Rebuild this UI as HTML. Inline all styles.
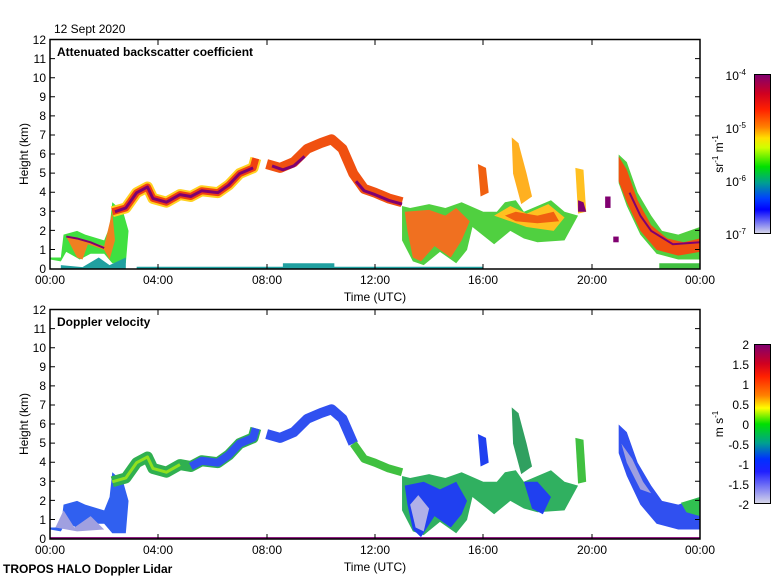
<!DOCTYPE html>
<html><head><meta charset="utf-8"><style>
body{margin:0;background:#fff;}
svg{display:block;font-family:"Liberation Sans",sans-serif;}
</style></head><body>
<svg width="780" height="580" viewBox="0 0 780 580" xmlns="http://www.w3.org/2000/svg">
<defs>
<linearGradient id="gb" x1="0" y1="0" x2="0" y2="1">
<stop offset="0" stop-color="#800070"/><stop offset="0.12" stop-color="#d00020"/><stop offset="0.22" stop-color="#ff2000"/><stop offset="0.33" stop-color="#ff8000"/><stop offset="0.40" stop-color="#ffe000"/><stop offset="0.46" stop-color="#d0ff00"/><stop offset="0.58" stop-color="#00e000"/><stop offset="0.68" stop-color="#00a090"/><stop offset="0.78" stop-color="#0040ff"/><stop offset="0.85" stop-color="#0000ff"/><stop offset="1" stop-color="#d8d8e8"/>
</linearGradient>
<linearGradient id="gd" x1="0" y1="0" x2="0" y2="1">
<stop offset="0" stop-color="#800070"/><stop offset="0.12" stop-color="#d00020"/><stop offset="0.2" stop-color="#ff2000"/><stop offset="0.32" stop-color="#ff8000"/><stop offset="0.40" stop-color="#ffff00"/><stop offset="0.5" stop-color="#00e000"/><stop offset="0.62" stop-color="#00a090"/><stop offset="0.72" stop-color="#0030ff"/><stop offset="0.8" stop-color="#2020ff"/><stop offset="1" stop-color="#d8d8e8"/>
</linearGradient>
</defs>

<!-- ===== Plot 1 data ===== -->
<g transform="translate(50,269) scale(27.08,-19.08)">
 <polygon fill="#40e040" points="0,0.6 0.4,0.6 0.5,1.8 1.0,2.0 1.3,1.8 2.0,1.5 2.2,2.2 2.3,3.5 2.7,3.0 2.9,2.0 2.8,0.3 2.3,0.3 2.0,0.8 1.5,0.8 1.1,0.5 0.6,0.9 0.4,0.4 0,0.5"/>
 <polygon fill="#f08020" points="0.6,1.7 1.0,0.6 1.2,0.5 1.4,1.3 2.0,1.0 2.2,0.5 2.4,1.5 2.3,3.0 2.0,1.2 1.5,1.4 1.0,1.6"/>
 <polygon fill="#20a0a0" points="0.4,0 2.8,0 2.8,0.6 2.2,0.2 1.8,0.6 1.2,0.1 0.4,0.2"/>
 <polygon fill="#20a0a0" points="3.2,0 16,0 16,0.12 3.2,0.12"/>
 <polygon fill="#20a0a0" points="8.6,0.1 10.5,0.1 10.5,0.3 8.6,0.3"/>
 <polyline fill="none" stroke="#ffd020" stroke-width="11" vector-effect="non-scaling-stroke" stroke-linejoin="round" points="2.3,3.0 2.8,3.2 3.2,4.0 3.6,4.3 3.8,3.7 4.3,3.5 4.8,3.9 5.2,3.8 5.6,4.1 6.2,4.0 6.6,4.4 7.0,5.0 7.5,5.3 7.6,5.8"/>
 <polyline fill="none" stroke="#f04010" stroke-width="7" vector-effect="non-scaling-stroke" stroke-linejoin="round" points="2.3,3.0 2.8,3.2 3.2,4.0 3.6,4.3 3.8,3.7 4.3,3.5 4.8,3.9 5.2,3.8 5.6,4.1 6.2,4.0 6.6,4.4 7.0,5.0 7.5,5.3 7.6,5.8"/>
 <polyline fill="none" stroke="#800070" stroke-width="3" vector-effect="non-scaling-stroke" stroke-linejoin="round" points="2.4,3.0 2.8,3.2 3.2,4.0 3.6,4.3 3.8,3.7 4.3,3.5 4.8,3.9 5.2,3.8 5.6,4.1 6.2,4.0 6.6,4.4 7.0,5.0 7.5,5.3"/>
 <polyline fill="none" stroke="#f05010" stroke-width="10" vector-effect="non-scaling-stroke" stroke-linejoin="round" points="8.0,5.5 8.5,5.3 9.0,5.6 9.5,6.3 10.0,6.6 10.4,6.8 10.8,6.3 11.2,5.0 11.6,4.2 12.0,4.0 12.5,3.7 13.0,3.5"/>
 <polyline fill="none" stroke="#800070" stroke-width="3" vector-effect="non-scaling-stroke" stroke-linejoin="round" points="8.2,5.4 8.6,5.2 9.0,5.4 9.4,5.9"/>
 <polyline fill="none" stroke="#800070" stroke-width="3" vector-effect="non-scaling-stroke" stroke-linejoin="round" points="11.3,4.6 11.6,4.1 12.0,3.9 12.5,3.6 13.0,3.4"/>
 <polyline fill="none" stroke="#800070" stroke-width="2" vector-effect="non-scaling-stroke" points="0.6,1.7 1.0,1.6 1.5,1.4 2.0,1.1"/>
 <!-- afternoon -->
 <polygon fill="#50d040" points="13.0,3.3 13.3,3.2 14.0,3.4 14.6,3.2 15.2,3.5 16.0,3.0 16.5,3.0 16.8,3.5 17.2,3.6 17.5,3.0 18.0,3.3 18.5,3.6 19.0,3.0 19.5,2.8 19.0,1.5 18.0,1.4 17.5,1.6 17.0,2.0 16.4,1.3 15.6,2.2 15.4,1.0 15.0,0.3 14.4,0.9 13.8,0.2 13.4,0.4 13.0,1.5"/>
 <polygon fill="#f07020" points="13.1,3.0 14.0,3.1 14.6,2.8 15.0,3.2 15.5,2.5 15.2,1.5 14.8,0.6 14.2,1.2 13.7,0.4 13.4,0.6 13.2,2.0"/>
 <polygon fill="#ffc020" points="16.4,2.8 17.0,3.3 17.6,2.9 18.4,3.4 19.0,2.7 18.6,2.0 17.6,2.2 17.0,2.5"/>
 <polygon fill="#f06010" points="16.8,2.8 17.2,3.0 18.0,2.8 18.6,3.0 18.8,2.5 18.0,2.4 17.2,2.5"/>
 <polygon fill="#ffb020" points="17.05,6.9 17.3,6.6 17.6,5.0 17.8,3.8 17.4,3.4 17.1,5.0"/>
 <polygon fill="#f06010" points="15.8,5.5 16.1,5.3 16.2,4.0 15.9,3.8"/>
 <polygon fill="#ffc020" points="19.4,5.3 19.7,5.2 19.8,3.0 19.5,2.9"/>
 <polygon fill="#800070" points="19.5,3.6 19.7,3.5 19.8,3.0 19.5,3.0"/>
 <polygon fill="#800070" points="20.5,3.8 20.7,3.8 20.7,3.2 20.5,3.2"/>
 <polygon fill="#800070" points="20.8,1.7 21.0,1.7 21.0,1.4 20.8,1.4"/>
 <polygon fill="#50d040" points="21.0,6.0 21.3,5.6 21.7,4.0 22.2,2.8 22.6,2.0 23.2,1.8 24,2.2 24,0.5 23.2,0.5 22.4,0.8 21.8,1.8 21.3,3.3 21.0,4.5"/>
 <polygon fill="#f05010" points="21.0,5.9 21.3,5.2 21.7,3.6 22.2,2.3 22.8,1.6 23.4,1.4 24,1.6 24,0.9 23.2,0.7 22.4,1.0 21.8,2.0 21.3,3.5 21.0,4.6"/>
 <polyline fill="none" stroke="#800070" stroke-width="2" vector-effect="non-scaling-stroke" points="21.4,4.0 21.8,2.8 22.2,2.0 23.0,1.3 24,1.4"/>
 <polygon fill="#40c040" points="22.5,0 24,0 24,0.3 22.5,0.3"/>
</g>

<!-- ===== Plot 2 data ===== -->
<g transform="translate(50,539) scale(27.08,-19.08)">
 <polygon fill="#3060f0" points="0,0.6 0.4,0.6 0.5,1.8 1.0,2.0 1.3,1.8 2.0,1.5 2.2,2.2 2.3,3.5 2.7,3.0 2.9,2.0 2.8,0.3 2.3,0.3 2.0,0.8 1.5,0.8 1.1,0.5 0.6,0.9 0.4,0.4 0,0.5"/>
 <polygon fill="#a0a0e0" points="0.2,0.6 0.5,1.5 0.9,0.6 1.5,1.2 2.0,0.5 1.0,0.4"/>
 <polyline fill="none" stroke="#30b050" stroke-width="11" vector-effect="non-scaling-stroke" stroke-linejoin="round" points="2.3,3.0 2.8,3.2 3.2,4.0 3.6,4.3 3.8,3.7 4.3,3.5 4.8,3.9 5.2,3.8 5.6,4.1 6.2,4.0 6.6,4.4 7.0,5.0 7.5,5.3 7.6,5.8"/>
 <polyline fill="none" stroke="#90e020" stroke-width="3" vector-effect="non-scaling-stroke" stroke-linejoin="round" points="2.3,3.0 2.8,3.2 3.2,4.0 3.6,4.3 3.8,3.7 4.3,3.5 4.8,3.9"/>
 <polyline fill="none" stroke="#3050f0" stroke-width="8" vector-effect="non-scaling-stroke" stroke-linejoin="round" points="5.2,3.8 5.6,4.1 6.2,4.0 6.6,4.4 7.0,5.0 7.5,5.3 7.6,5.8"/>
 <polyline fill="none" stroke="#3050f0" stroke-width="10" vector-effect="non-scaling-stroke" stroke-linejoin="round" points="8.0,5.5 8.5,5.3 9.0,5.6 9.5,6.3 10.0,6.6 10.4,6.8 10.8,6.3 11.2,5.0"/>
 <polyline fill="none" stroke="#40c040" stroke-width="8" vector-effect="non-scaling-stroke" stroke-linejoin="round" points="11.2,5.0 11.6,4.2 12.0,4.0 12.5,3.7 13.0,3.5"/>
 <polygon fill="#30b060" points="13.0,3.3 13.3,3.2 14.0,3.4 14.6,3.2 15.2,3.5 16.0,3.0 16.5,3.0 16.8,3.5 17.2,3.6 17.5,3.0 18.0,3.3 18.5,3.6 19.0,3.0 19.5,2.8 19.0,1.5 18.0,1.4 17.5,1.6 17.0,2.0 16.4,1.3 15.6,2.2 15.4,1.0 15.0,0.3 14.4,0.9 13.8,0.2 13.4,0.4 13.0,1.5"/>
 <polygon fill="#2040f0" points="13.1,2.8 13.8,3.0 14.4,2.6 15.0,3.0 15.4,2.0 15.2,1.3 14.8,0.6 14.2,1.2 13.7,0.1 13.4,0.5 13.2,1.8"/>
 <polygon fill="#b0b0e8" points="13.3,1.8 13.6,2.3 14.0,1.6 13.8,0.4 13.5,0.6"/>
 <polygon fill="#2040f0" points="17.5,3.0 18.0,3.0 18.5,2.2 18.2,1.3 17.8,1.6"/>
 <polygon fill="#30a060" points="17.05,6.9 17.3,6.6 17.6,5.0 17.8,3.8 17.4,3.4 17.1,5.0"/>
 <polygon fill="#2040f0" points="15.8,5.5 16.1,5.3 16.2,4.0 15.9,3.8"/>
 <polygon fill="#40c040" points="19.4,5.3 19.7,5.2 19.8,3.0 19.5,2.9"/>
 <polygon fill="#3050f0" points="21.0,6.0 21.3,5.6 21.7,4.0 22.2,2.8 22.6,2.0 23.2,1.8 24,2.2 24,0.5 23.2,0.5 22.4,0.8 21.8,1.8 21.3,3.3 21.0,4.5"/>
 <polygon fill="#a0a0e0" points="21.1,5.0 21.5,4.2 21.9,3.0 22.2,2.4 21.8,2.6 21.3,4.0"/>
 <polygon fill="#30c050" points="23.3,1.9 24,2.2 24,1.2 23.5,1.4"/>
 <polygon fill="#800070" points="0,0 24,0 24,0.1 0,0.1"/>
</g>

<!-- ===== Frames & axes ===== -->
<g fill="none" stroke="#000" stroke-width="1.5">
 <rect x="50" y="39.5" width="650" height="229.5"/>
 <rect x="50" y="309.5" width="650" height="229.5"/>
</g>
<g stroke="#000" stroke-width="1">
 <path d="M50,58.6h5M50,77.7h5M50,96.8h5M50,115.9h5M50,135h5M50,154h5M50,173.1h5M50,192.2h5M50,211.3h5M50,230.4h5M50,249.5h5
 M700,58.6h-5M700,77.7h-5M700,96.8h-5M700,115.9h-5M700,135h-5M700,154h-5M700,173.1h-5M700,192.2h-5M700,211.3h-5M700,230.4h-5M700,249.5h-5
 M158,269v-5M267,269v-5M375,269v-5M483,269v-5M592,269v-5M158,40v5M267,40v5M375,40v5M483,40v5M592,40v5"/>
 <path d="M50,328.6h5M50,347.7h5M50,366.8h5M50,385.9h5M50,405h5M50,424h5M50,443.1h5M50,462.2h5M50,481.3h5M50,500.4h5M50,519.5h5
 M700,328.6h-5M700,347.7h-5M700,366.8h-5M700,385.9h-5M700,405h-5M700,424h-5M700,443.1h-5M700,462.2h-5M700,481.3h-5M700,500.4h-5M700,519.5h-5
 M158,539v-5M267,539v-5M375,539v-5M483,539v-5M592,539v-5M158,310v5M267,310v5M375,310v5M483,310v5M592,310v5"/>
</g>

<g font-size="12" fill="#000">
 <text x="54" y="33">12 Sept 2020</text>
 <g text-anchor="end">
  <text x="46" y="273">0</text><text x="46" y="254">1</text><text x="46" y="235">2</text><text x="46" y="216">3</text><text x="46" y="196">4</text><text x="46" y="177">5</text><text x="46" y="158">6</text><text x="46" y="139">7</text><text x="46" y="120">8</text><text x="46" y="101">9</text><text x="46" y="82">10</text><text x="46" y="63">11</text><text x="46" y="44">12</text>
  <text x="46" y="543">0</text><text x="46" y="524">1</text><text x="46" y="505">2</text><text x="46" y="486">3</text><text x="46" y="466">4</text><text x="46" y="447">5</text><text x="46" y="428">6</text><text x="46" y="409">7</text><text x="46" y="390">8</text><text x="46" y="371">9</text><text x="46" y="352">10</text><text x="46" y="333">11</text><text x="46" y="314">12</text>
 </g>
 <g text-anchor="middle">
  <text x="50" y="284">00:00</text><text x="158" y="284">04:00</text><text x="267" y="284">08:00</text><text x="375" y="284">12:00</text><text x="483" y="284">16:00</text><text x="592" y="284">20:00</text><text x="700" y="284">00:00</text>
  <text x="375" y="301">Time (UTC)</text>
  <text x="50" y="554">00:00</text><text x="158" y="554">04:00</text><text x="267" y="554">08:00</text><text x="375" y="554">12:00</text><text x="483" y="554">16:00</text><text x="592" y="554">20:00</text><text x="700" y="554">00:00</text>
  <text x="375" y="571">Time (UTC)</text>
 </g>
 <text transform="translate(28,154) rotate(-90)" text-anchor="middle">Height (km)</text>
 <text transform="translate(28,424) rotate(-90)" text-anchor="middle">Height (km)</text>
 <text x="57" y="56" font-weight="bold">Attenuated backscatter coefficient</text>
 <text x="57" y="326" font-weight="bold">Doppler velocity</text>
 <text x="3" y="573" font-weight="bold">TROPOS HALO Doppler Lidar</text>
</g>

<rect x="754.5" y="74.5" width="16" height="159" fill="url(#gb)" stroke="#000"/>
<rect x="754.5" y="344.5" width="16" height="159" fill="url(#gd)" stroke="#000"/>
<g font-size="12" fill="#000" text-anchor="end">
 <text x="746" y="80">10<tspan font-size="8" dy="-5">-4</tspan></text>
 <text x="746" y="133">10<tspan font-size="8" dy="-5">-5</tspan></text>
 <text x="746" y="186">10<tspan font-size="8" dy="-5">-6</tspan></text>
 <text x="746" y="239">10<tspan font-size="8" dy="-5">-7</tspan></text>
 <text x="749" y="349">2</text><text x="749" y="369">1.5</text><text x="749" y="389">1</text><text x="749" y="409">0.5</text><text x="749" y="429">0</text><text x="749" y="449">-0.5</text><text x="749" y="469">-1</text><text x="749" y="489">-1.5</text><text x="749" y="509">-2</text>
</g>
<text transform="translate(723,154) rotate(-90)" text-anchor="middle" font-size="12">sr<tspan font-size="8" dy="-5">-1</tspan><tspan dy="5"> m</tspan><tspan font-size="8" dy="-5">-1</tspan></text>
<text transform="translate(723,424) rotate(-90)" text-anchor="middle" font-size="12">m s<tspan font-size="8" dy="-5">-1</tspan></text>
</svg>
</body></html>
